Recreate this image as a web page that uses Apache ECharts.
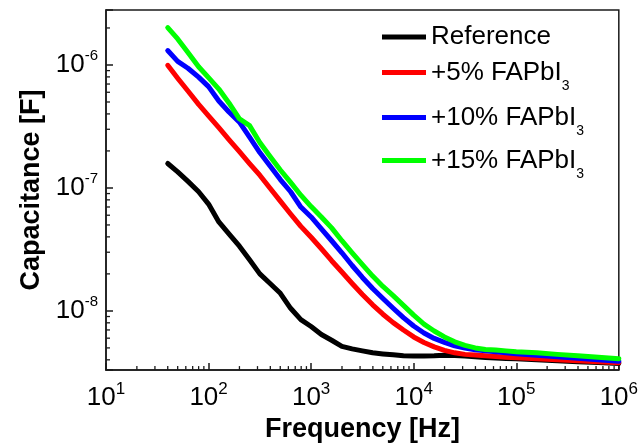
<!DOCTYPE html>
<html><head><meta charset="utf-8">
<script src="https://cdn.jsdelivr.net/npm/echarts@6/dist/echarts.min.js"></script>
<style>html,body{margin:0;padding:0;background:#fff}#c{width:641px;height:448px}</style>
</head><body><div id="c"></div>
<script>
// ---- data ----
const frequency = [40, 50, 63, 80, 100, 126, 158, 200, 251, 316, 398, 501, 631, 794,
  1000, 1259, 1585, 1995, 2512, 3162, 3981, 5012, 6310, 7943,
  10000, 12589, 15849, 19953, 25119, 31623, 39811, 50119, 63096, 79433,
  100000, 158489, 251189, 398107, 630957, 1000000];

const capReference = [1.58e-7, 1.35e-7, 1.13e-7, 9.32e-8, 7.39e-8, 5.29e-8, 4.23e-8, 3.36e-8, 2.61e-8, 2.00e-8,
  1.67e-8, 1.39e-8, 1.05e-8, 8.49e-9, 7.46e-9, 6.43e-9, 5.77e-9, 5.14e-9, 4.91e-9, 4.73e-9,
  4.56e-9, 4.47e-9, 4.39e-9, 4.31e-9, 4.29e-9, 4.29e-9, 4.31e-9, 4.35e-9, 4.33e-9, 4.29e-9,
  4.23e-9, 4.18e-9, 4.13e-9, 4.10e-9, 4.08e-9, 4.00e-9, 3.93e-9, 3.86e-9, 3.80e-9, 3.74e-9];

const cap5 = [9.94e-7, 7.81e-7, 6.14e-7, 4.78e-7, 3.86e-7, 3.09e-7, 2.47e-7, 1.97e-7, 1.58e-7, 1.27e-7,
  9.94e-8, 7.81e-8, 6.14e-8, 4.87e-8, 3.97e-8, 3.20e-8, 2.56e-8, 2.07e-8, 1.67e-8, 1.36e-8,
  1.12e-8, 9.40e-9, 8.03e-9, 6.99e-9, 6.14e-9, 5.54e-9, 5.10e-9, 4.78e-9, 4.56e-9, 4.43e-9,
  4.37e-9, 4.31e-9, 4.25e-9, 4.19e-9, 4.15e-9, 4.08e-9, 4.00e-9, 3.93e-9, 3.86e-9, 3.79e-9];

const cap10 = [1.31e-6, 1.07e-6, 9.41e-7, 7.96e-7, 6.67e-7, 5.10e-7, 4.15e-7, 3.43e-7, 2.59e-7, 1.94e-7,
  1.51e-7, 1.17e-7, 9.31e-8, 6.99e-8, 5.81e-8, 4.65e-8, 3.72e-8, 2.97e-8, 2.34e-8, 1.87e-8,
  1.52e-8, 1.26e-8, 1.05e-8, 8.81e-9, 7.53e-9, 6.61e-9, 5.97e-9, 5.54e-9, 5.19e-9, 4.98e-9,
  4.82e-9, 4.73e-9, 4.65e-9, 4.56e-9, 4.49e-9, 4.35e-9, 4.24e-9, 4.12e-9, 4.00e-9, 3.89e-9];

const cap15 = [2.01e-6, 1.63e-6, 1.265e-6, 9.67e-7, 7.89e-7, 6.37e-7, 4.91e-7, 3.65e-7, 3.21e-7, 2.34e-7,
  1.80e-7, 1.40e-7, 1.11e-7, 8.73e-8, 7.05e-8, 5.81e-8, 4.73e-8, 3.72e-8, 2.97e-8, 2.38e-8,
  1.92e-8, 1.58e-8, 1.33e-8, 1.11e-8, 9.23e-9, 7.81e-9, 6.86e-9, 6.14e-9, 5.60e-9, 5.24e-9,
  5.00e-9, 4.86e-9, 4.80e-9, 4.73e-9, 4.65e-9, 4.56e-9, 4.43e-9, 4.31e-9, 4.20e-9, 4.08e-9];

const seriesNames = ['Reference', '+5% FAPbI3', '+10% FAPbI3', '+15% FAPbI3'];
const legendLabels = ['Reference', '+5% FAPbI{sub|3}', '+10% FAPbI{sub|3}', '+15% FAPbI{sub|3}'];
const seriesValues = [capReference, cap5, cap10, cap15];
const seriesColors = ['#000000', '#ff0000', '#0000ff', '#00ff00'];

const xTickExponents = [1, 2, 3, 4, 5, 6];
const yTickExponents = [-8, -7, -6];
const xTitle = 'Frequency [Hz]';
const yTitle = 'Capacitance [F]';

// ---- chart ----
const FONT = '"Liberation Sans", Arial, sans-serif';
const X_MIN = 10, X_MAX = 1e6, Y_MIN = 3.3e-9, Y_MAX = 2.8e-6;
const AX = '#1a1a1a';

// minor tick values (2..9 x each decade) inside the axis ranges
const xMinorTicks = [];
for (let e = 1; e < 6; e++) for (let m = 2; m <= 9; m++) xMinorTicks.push(m * Math.pow(10, e));
const yMinorTicks = [];
for (let e = -9; e <= -6; e++) for (let m = 2; m <= 9; m++) {
  const v = m * Math.pow(10, e);
  if (v > Y_MIN && v < Y_MAX) yMinorTicks.push(v);
}

function powLabel(v, list) {
  const l = Math.log10(v), e = Math.round(l);
  if (Math.abs(l - e) > 1e-6 || list.indexOf(e) < 0) return '';
  return '{b|10}{s|' + e + '}';
}

const legendTops = [24, 59.5, 104.5, 147.5];

function minorTickSeries(name, data, horizontal) {
  return {
    name: name, type: 'custom', coordinateSystem: 'cartesian2d', xAxisIndex: 0, yAxisIndex: 0,
    silent: true, clip: false, z: 10, animation: false,
    data: data,
    renderItem: function (params, api) {
      const p = api.coord([api.value(0), api.value(1)]);
      const shape = horizontal
        ? { x1: p[0], y1: p[1], x2: p[0] + 4, y2: p[1] }
        : { x1: p[0], y1: p[1], x2: p[0], y2: p[1] - 4 };
      return { type: 'line', shape: shape, style: { stroke: AX, lineWidth: 1.3 } };
    }
  };
}

const option = {
  animation: false,
  backgroundColor: '#ffffff',
  grid: { left: 106, right: 20, top: 10, bottom: 75, show: true, borderColor: AX, borderWidth: 1.5, backgroundColor: 'transparent' },
  legend: seriesNames.map((n, i) => ({
    data: [n], orient: 'vertical', left: 382, top: legendTops[i], padding: 0,
    itemWidth: 44, itemHeight: 5, icon: 'rect', selectedMode: false,
    formatter: () => legendLabels[i],
    textStyle: { fontSize: 26, fontFamily: FONT, color: '#000',
      rich: { sub: { fontSize: 14, fontFamily: FONT, color: '#000', padding: [28, 0, 0, 0] } } }
  })),
  xAxis: [{
    type: 'log', logBase: 10, min: X_MIN, max: X_MAX, position: 'bottom',
    name: xTitle, nameLocation: 'middle', nameGap: 36,
    nameTextStyle: { fontSize: 27, fontWeight: 'bold', fontFamily: FONT, color: '#000' },
    axisLine: { show: true, lineStyle: { color: AX, width: 1.5 } },
    axisTick: { show: true, inside: true, length: 7, lineStyle: { color: AX, width: 1.5 } },
    splitLine: { show: false }, minorTick: { show: false },
    axisLabel: { margin: 11, formatter: v => powLabel(v, xTickExponents),
      rich: { b: { fontSize: 26, fontFamily: FONT, color: '#000' },
              s: { fontSize: 17, fontFamily: FONT, color: '#000', padding: [0, 0, 17, 0] } } }
  }],
  yAxis: [{
    type: 'log', logBase: 10, min: Y_MIN, max: Y_MAX, position: 'left',
    name: yTitle, nameLocation: 'middle', nameGap: 60, nameRotate: 90,
    nameTextStyle: { fontSize: 27, fontWeight: 'bold', fontFamily: FONT, color: '#000' },
    axisLine: { show: true, lineStyle: { color: AX, width: 1.5 } },
    axisTick: { show: true, inside: true, length: 7, lineStyle: { color: AX, width: 1.5 } },
    splitLine: { show: false }, minorTick: { show: false },
    axisLabel: { margin: 8, formatter: v => powLabel(v, yTickExponents),
      rich: { b: { fontSize: 26, fontFamily: FONT, color: '#000' },
              s: { fontSize: 15, fontFamily: FONT, color: '#000', padding: [0, 0, 18, 0] } } }
  }],
  series: seriesNames.map((n, i) => ({
    name: n, type: 'line', xAxisIndex: 0, yAxisIndex: 0,
    showSymbol: false, symbol: 'none', silent: true,
    color: seriesColors[i],
    lineStyle: { width: 5, color: seriesColors[i], cap: 'round', join: 'round' },
    itemStyle: { color: seriesColors[i] },
    data: frequency.map((f, k) => [f, seriesValues[i][k]])
  })).concat([
    minorTickSeries('xminor', xMinorTicks.map(v => [v, Y_MIN]), false),
    minorTickSeries('yminor', yMinorTicks.map(v => [X_MIN, v]), true)
  ])
};

const chart = echarts.init(document.getElementById('c'), null, { renderer: 'canvas' });
chart.setOption(option);
</script></body></html>
